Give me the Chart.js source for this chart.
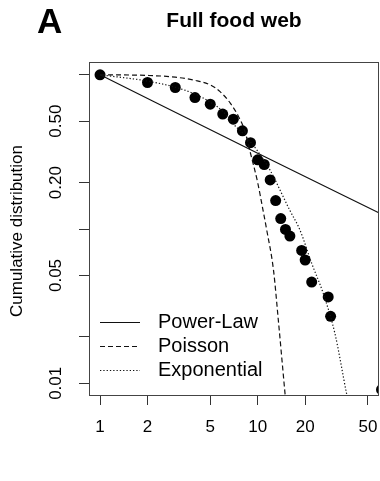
<!DOCTYPE html>
<html>
<head>
<meta charset="utf-8">
<script src="https://cdn.jsdelivr.net/npm/chart.js@4"></script>
<style>
    html, body { margin: 0; padding: 0; background: #fff; }
    #chart { display: block; }
</style>
</head>
<body>
<canvas id="chart" width="380" height="481"></canvas>
<script>
// observed degree distribution (dots)
const degree = [1, 2, 3, 4, 5, 6, 7, 8, 9, 10, 11, 12, 13, 14, 15, 16, 19, 20, 22, 28, 29, 61];
const cumFrac = [1.0, 0.891, 0.827, 0.712, 0.645, 0.556, 0.515, 0.433, 0.363, 0.281, 0.262, 0.208,
    0.153, 0.117, 0.0995, 0.090, 0.0727, 0.063, 0.0453, 0.0363, 0.0272, 0.0091];

// fitted curves
const powerX = [1, 10, 60];
const powerY = [1.0, 0.31, 0.126];
const poissonX = [1, 2, 3, 4, 5, 5.75, 6.7, 7.55, 8.3, 9, 10, 10.7, 11.4, 12.6, 13.5, 14.9, 15.4];
const poissonY = [1.0, 0.99, 0.965, 0.92, 0.86, 0.78, 0.655, 0.537, 0.43, 0.31, 0.2, 0.14, 0.099, 0.054, 0.026, 0.0086, 0.006];
const expoX = [1, 2, 3, 4, 5, 6, 7, 8, 10, 12, 14, 16, 18.5, 22, 26.1, 30.9, 36.6, 38];
const expoY = [1.0, 0.91, 0.83, 0.75, 0.665, 0.58, 0.48, 0.42, 0.32, 0.24, 0.175, 0.132, 0.099, 0.06, 0.038, 0.021, 0.0086, 0.0072];

const seriesNames = ['Power-Law', 'Poisson', 'Exponential'];
const xTicks = [1, 2, 5, 10, 20, 50];
const yTicks = [0.01, 0.02, 0.05, 0.1, 0.2, 0.5, 1];
const yTickLabels = ['0.01', '', '0.05', '', '0.20', '0.50', ''];

const FONT = '"Liberation Sans", Arial, Helvetica, sans-serif';
const DASHED = [5, 3];
const DOTTED = [1.3, 2];

function toPoints(xs, ys) {
    return xs.map((x, i) => ({ x: x, y: ys[i] }));
}

// box, titles, rotated y labels and the legend inside the plot
const decorations = {
    id: 'decorations',
    afterDraw(chart) {
        const ctx = chart.ctx;
        const area = chart.chartArea;
        const yScale = chart.scales.y;
        ctx.save();

        ctx.strokeStyle = '#444';
        ctx.lineWidth = 1;
        ctx.strokeRect(area.left + 0.5, area.top + 0.5, area.right - area.left - 1, area.bottom - area.top);

        ctx.fillStyle = '#000';
        ctx.textAlign = 'left';
        ctx.textBaseline = 'alphabetic';
        ctx.font = 'bold 35px ' + FONT;
        ctx.fillText('A', 37, 33);

        ctx.textAlign = 'center';
        ctx.font = 'bold 21px ' + FONT;
        ctx.fillText('Full food web', (area.left + area.right) / 2, 27);

        // y tick labels, read upwards like R's default
        ctx.font = '17px ' + FONT;
        ctx.textBaseline = 'middle';
        yTicks.forEach((v, i) => {
            if (!yTickLabels[i]) return;
            ctx.save();
            ctx.translate(56, yScale.getPixelForValue(v));
            ctx.rotate(-Math.PI / 2);
            ctx.fillText(yTickLabels[i], 0, 0);
            ctx.restore();
        });

        ctx.save();
        ctx.translate(17, 231);
        ctx.rotate(-Math.PI / 2);
        ctx.fillText('Cumulative distribution', 0, 0);
        ctx.restore();

        // legend
        const rows = [322, 346, 370];
        const dashes = [[], DASHED, DOTTED];
        ctx.font = '20px ' + FONT;
        ctx.textAlign = 'left';
        ctx.lineWidth = 1.2;
        ctx.strokeStyle = '#111';
        rows.forEach((y, i) => {
            ctx.setLineDash(dashes[i]);
            ctx.beginPath();
            ctx.moveTo(100, y + 0.5);
            ctx.lineTo(140, y + 0.5);
            ctx.stroke();
            ctx.fillText(chart.data.datasets[i].label, 158, y);
        });
        ctx.restore();
    }
};

function lineSet(label, xs, ys, dash) {
    return {
        label: label,
        data: toPoints(xs, ys),
        showLine: true,
        borderColor: '#111',
        borderWidth: 1.2,
        borderDash: dash,
        pointRadius: 0,
        cubicInterpolationMode: 'monotone',
        clip: 0
    };
}

document.addEventListener('DOMContentLoaded', function() {
    const ctx = document.getElementById('chart').getContext('2d');
    new Chart(ctx, {
        type: 'scatter',
        data: {
            datasets: [
                lineSet(seriesNames[0], powerX, powerY, []),
                lineSet(seriesNames[1], poissonX, poissonY, DASHED),
                lineSet(seriesNames[2], expoX, expoY, DOTTED),
                {
                    label: 'Observed',
                    data: toPoints(degree, cumFrac),
                    showLine: false,
                    pointRadius: 5.5,
                    pointBackgroundColor: '#000',
                    pointBorderWidth: 0,
                    clip: 0
                }
            ]
        },
        plugins: [decorations],
        options: {
            responsive: false,
            animation: false,
            layout: { autoPadding: false, padding: { top: 62, right: 1, left: 0, bottom: 0 } },
            plugins: {
                legend: { display: false },
                tooltip: { enabled: false }
            },
            scales: {
                x: {
                    type: 'logarithmic',
                    min: 0.851,
                    max: 58.8,
                    afterBuildTicks: scale => { scale.ticks = xTicks.map(v => ({ value: v })); },
                    afterFit: scale => {
                        scale.height = 86;
                        scale.paddingLeft = 0;
                        scale.paddingRight = 0;
                    },
                    border: { display: false },
                    grid: { drawOnChartArea: false, drawTicks: true, tickLength: 10, color: '#333' },
                    ticks: {
                        autoSkip: false,
                        maxRotation: 0,
                        padding: 12,
                        color: '#000',
                        font: { family: FONT, size: 17 },
                        callback: value => String(value)
                    }
                },
                y: {
                    type: 'logarithmic',
                    min: 0.0084,
                    max: 1.21,
                    afterBuildTicks: scale => { scale.ticks = yTicks.map(v => ({ value: v })); },
                    afterFit: scale => {
                        scale.width = 89;
                        scale.paddingTop = 0;
                        scale.paddingBottom = 0;
                    },
                    border: { display: false },
                    grid: { drawOnChartArea: false, drawTicks: true, tickLength: 10, color: '#333' },
                    ticks: { autoSkip: false, callback: () => '' }
                }
            }
        }
    });
});
</script>
</body>
</html>
